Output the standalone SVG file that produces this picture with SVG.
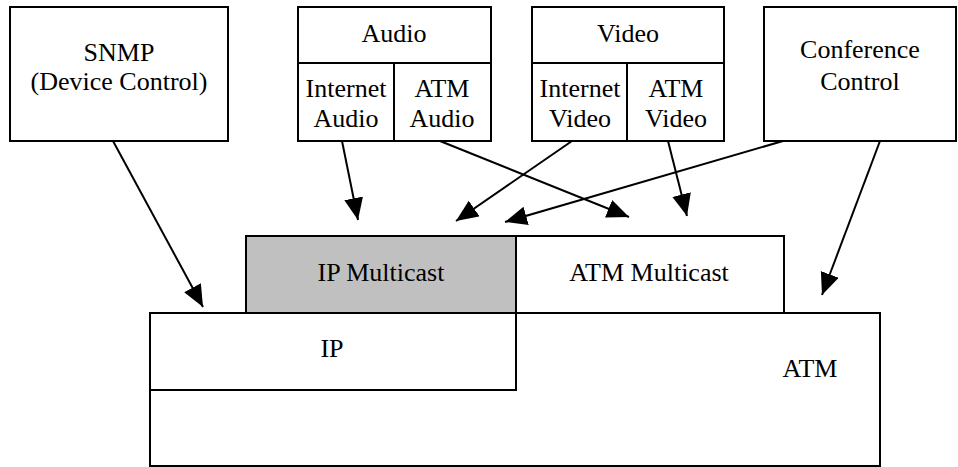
<svg xmlns="http://www.w3.org/2000/svg" width="958" height="467" viewBox="0 0 958 467">
  <style>
    .box { fill: #ffffff; stroke: #000000; stroke-width: 2; }
    .shaded { fill: #c0c0c0; stroke: #000000; stroke-width: 2; }
    .div { stroke: #000000; stroke-width: 2; fill: none; }
    .lbl { font-family: 'Liberation Serif', 'Times New Roman', serif; font-size: 26px; fill: #000000; text-anchor: middle; }
    .conn { stroke: #000000; stroke-width: 2; fill: none; marker-end: url(#head); }
  </style>
  <defs>
    <marker id="head" markerUnits="userSpaceOnUse" markerWidth="24" markerHeight="20" refX="22" refY="9.5" orient="auto">
      <path d="M0,0 L22,9.5 L0,19 Z" fill="#000000"/>
    </marker>
  </defs>

  <rect width="958" height="467" fill="#ffffff"/>

  <!-- lower layers -->
  <g id="atm">
    <rect class="box" x="150" y="313" width="730" height="153"/>
    <text class="lbl" x="810" y="377">ATM</text>
  </g>
  <g id="ip">
    <rect class="box" x="150" y="313" width="366" height="77"/>
    <text class="lbl" x="332" y="357">IP</text>
  </g>
  <g id="ip-multicast">
    <rect class="shaded" x="246" y="236" width="270" height="77"/>
    <text class="lbl" x="381" y="281">IP Multicast</text>
  </g>
  <g id="atm-multicast">
    <rect class="box" x="516" y="236" width="268" height="77"/>
    <text class="lbl" x="649" y="281">ATM Multicast</text>
  </g>

  <!-- applications -->
  <g id="snmp">
    <rect class="box" x="10" y="7" width="218" height="134"/>
    <text class="lbl" x="119" y="61">SNMP</text>
    <text class="lbl" x="119" y="90">(Device Control)</text>
  </g>
  <g id="audio">
    <rect class="box" x="298" y="7" width="193" height="134"/>
    <line class="div" x1="298" y1="63" x2="491" y2="63"/>
    <line class="div" x1="394" y1="63" x2="394" y2="141"/>
    <text class="lbl" x="394" y="42">Audio</text>
    <text class="lbl" x="346" y="97">Internet</text>
    <text class="lbl" x="346" y="127">Audio</text>
    <text class="lbl" x="442" y="97">ATM</text>
    <text class="lbl" x="442" y="127">Audio</text>
  </g>
  <g id="video">
    <rect class="box" x="532" y="7" width="192" height="134"/>
    <line class="div" x1="532" y1="63" x2="724" y2="63"/>
    <line class="div" x1="627" y1="63" x2="627" y2="141"/>
    <text class="lbl" x="628" y="42">Video</text>
    <text class="lbl" x="580" y="97">Internet</text>
    <text class="lbl" x="580" y="127">Video</text>
    <text class="lbl" x="676" y="97">ATM</text>
    <text class="lbl" x="676" y="127">Video</text>
  </g>
  <g id="conference-control">
    <rect class="box" x="764" y="7" width="192" height="134"/>
    <text class="lbl" x="860" y="58">Conference</text>
    <text class="lbl" x="860" y="90">Control</text>
  </g>

  <!-- connectors -->
  <g id="connectors">
    <line class="conn" x1="113" y1="141" x2="203" y2="307"/>
    <line class="conn" x1="342" y1="141" x2="358" y2="220"/>
    <line class="conn" x1="440" y1="141" x2="629" y2="217"/>
    <line class="conn" x1="572" y1="141" x2="456" y2="221"/>
    <line class="conn" x1="783" y1="141" x2="505" y2="222"/>
    <line class="conn" x1="668" y1="141" x2="687" y2="216"/>
    <line class="conn" x1="880" y1="141" x2="822" y2="295"/>
  </g>
</svg>
